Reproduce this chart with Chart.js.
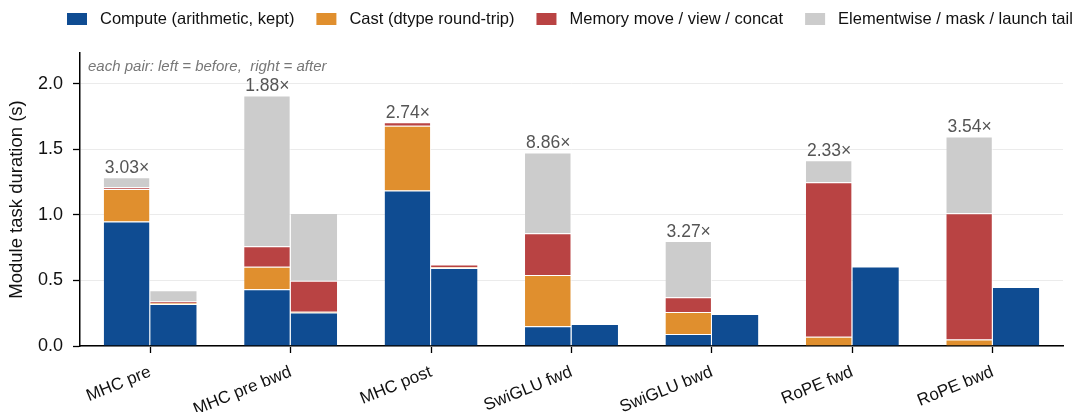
<!DOCTYPE html>
<html>
<head>
<meta charset="utf-8">
<script src="https://cdn.jsdelivr.net/npm/chart.js@4"></script>
<style>
  html, body { margin: 0; padding: 0; background: #fff; overflow: hidden; }
  #wrap { width: 1073px; height: 412px; position: relative; }
</style>
</head>
<body>
<div id="wrap"><canvas id="c" width="1073" height="412"></canvas></div>
<script>
const categories = ['MHC pre', 'MHC pre bwd', 'MHC post', 'SwiGLU fwd', 'SwiGLU bwd', 'RoPE fwd', 'RoPE bwd'];
const seriesNames = ['Compute (arithmetic, kept)', 'Cast (dtype round-trip)', 'Memory move / view / concat', 'Elementwise / mask / launch tail'];
const seriesColors = ['#0F4C92', '#E08F2E', '#B94343', '#CCCCCC'];

// before (left bar of each pair)
const computeBefore = [0.950, 0.432, 1.186, 0.150, 0.092, 0.000, 0.000];
const castBefore    = [0.248, 0.173, 0.494, 0.392, 0.168, 0.071, 0.050];
const memoryBefore  = [0.012, 0.155, 0.027, 0.318, 0.111, 1.178, 0.962];
const elemBefore    = [0.078, 1.150, 0.000, 0.616, 0.429, 0.168, 0.586];
// after (right bar of each pair)
const computeAfter  = [0.320, 0.256, 0.595, 0.167, 0.245, 0.607, 0.450];
const castAfter     = [0.008, 0.005, 0.005, 0.000, 0.000, 0.000, 0.000];
const memoryAfter   = [0.012, 0.237, 0.022, 0.000, 0.000, 0.000, 0.000];
const elemAfter     = [0.085, 0.517, 0.000, 0.000, 0.000, 0.000, 0.000];

const speedups = [3.03, 1.88, 2.74, 8.86, 3.27, 2.33, 3.54];
const yTicks = [0.0, 0.5, 1.0, 1.5, 2.0];
const yMax = 2.235;
const yTitle = 'Module task duration (s)';
const note = 'each pair: left = before,  right = after';

const beforeSets = [computeBefore, castBefore, memoryBefore, elemBefore];
const afterSets = [computeAfter, castAfter, memoryAfter, elemAfter];

const FONT = '"Liberation Sans", Arial, Helvetica, sans-serif';

const datasets = [];
beforeSets.forEach((d, i) => datasets.push({
  label: seriesNames[i], data: d, stack: 'before', backgroundColor: seriesColors[i],
  borderColor: 'rgba(255,255,255,0.8)', borderWidth: { top: 1, right: 1, left: 0, bottom: 0 }, borderSkipped: false
}));
afterSets.forEach((d, i) => datasets.push({
  label: seriesNames[i] + ' (after)', data: d, stack: 'after', backgroundColor: seriesColors[i],
  borderColor: 'rgba(255,255,255,0.8)', borderWidth: { top: 1, right: 0, left: 0, bottom: 0 }, borderSkipped: false
}));

const overlay = {
  id: 'overlay',
  afterDatasetsDraw(chart) {
    const ctx = chart.ctx;
    const ys = chart.scales.y;
    const area = chart.chartArea;
    const meta = chart.getDatasetMeta(3);
    ctx.save();
    ctx.fillStyle = '#555555';
    ctx.font = '17.5px ' + FONT;
    ctx.textAlign = 'center';
    ctx.textBaseline = 'bottom';
    categories.forEach((c, i) => {
      const total = beforeSets.reduce((s, arr) => s + arr[i], 0);
      const x = meta.data[i].x;
      ctx.fillText(speedups[i].toFixed(2) + '\u00d7', x, ys.getPixelForValue(total) - 0.5);
    });
    ctx.fillStyle = '#777777';
    ctx.font = 'italic 15px ' + FONT;
    ctx.textAlign = 'left';
    ctx.textBaseline = 'middle';
    ctx.fillText(note, area.left + 8, 67);
    ctx.restore();
  },
  afterDraw(chart) {
    const ctx = chart.ctx;
    ctx.save();
    ctx.font = '16.5px ' + FONT;
    ctx.textBaseline = 'middle';
    let x = 67;
    const yc = 19;
    seriesNames.forEach((n, i) => {
      ctx.fillStyle = seriesColors[i];
      ctx.fillRect(x, yc - 6, 20, 12);
      x += 20 + 13;
      ctx.fillStyle = '#111111';
      ctx.textAlign = 'left';
      ctx.fillText(n, x, yc + 0.5);
      x += ctx.measureText(n).width + 22;
    });
    ctx.restore();
  }
};

new Chart(document.getElementById('c'), {
  type: 'bar',
  data: { labels: categories, datasets },
  options: {
    responsive: false,
    animation: false,
    devicePixelRatio: 1,
    layout: { padding: { top: 53, right: 10, left: 0, bottom: 0 } },
    datasets: { bar: { categoryPercentage: 0.662, barPercentage: 1.0 } },
    plugins: { legend: { display: false }, tooltip: { enabled: false } },
    scales: {
      x: {
        stacked: true,
        offset: true,
        grid: { display: true, drawOnChartArea: false, offset: false, tickLength: 7, tickColor: '#000', tickWidth: 1.3 },
        border: { display: true, color: '#000', width: 1.5 },
        ticks: { color: '#111', font: { family: FONT, size: 17 }, minRotation: 22, maxRotation: 22, autoSkip: false, padding: 9 },
        afterFit(s) { s.height = 412 - 346; }
      },
      y: {
        stacked: true,
        min: 0, max: yMax,
        afterBuildTicks(s) { s.ticks = yTicks.map(v => ({ value: v })); },
        grid: { color: '#EBEBEB', lineWidth: 1, tickLength: 7, tickColor: '#000', tickWidth: 1.3 },
        border: { display: true, color: '#000', width: 1.5 },
        ticks: { color: '#111', font: { family: FONT, size: 18 }, padding: 10, callback: (v) => Number(v).toFixed(1) },
        title: { display: true, text: yTitle, color: '#111', font: { family: FONT, size: 18.5 }, padding: { top: 6, bottom: 0 } },
        afterFit(s) { s.width = 80; }
      }
    }
  },
  plugins: [overlay]
});
</script>
</body>
</html>
